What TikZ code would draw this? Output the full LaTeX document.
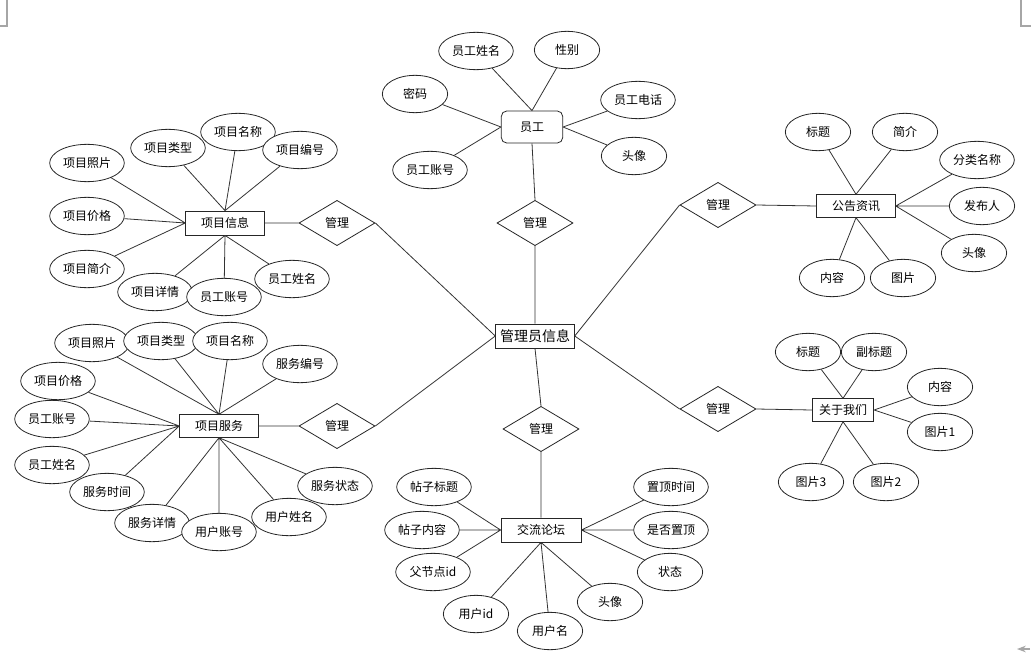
\documentclass[tikz,border=0pt]{standalone}
\usepackage{fontspec}
\setmainfont{Noto Sans CJK SC}
\usepackage{tikz}
\usetikzlibrary{shapes.geometric, arrows.meta}

\begin{document}
\begin{tikzpicture}[
    x=0.75pt, y=-0.75pt,
    font=\fontsize{9}{11}\selectfont,
    line width=0.6pt,
    >=Stealth,
    attr/.style={ellipse, draw=black!85, fill=white, inner sep=0pt, minimum width=56pt, minimum height=28pt},
    attrs/.style={attr, minimum width=49pt},
    entity/.style={rectangle, draw=black!85, fill=white, minimum width=59pt, minimum height=18pt, inner sep=2pt},
    relation/.style={diamond, draw=black!85, fill=white, inner sep=0pt, minimum width=57pt, minimum height=34pt},
    link/.style={draw=black!80}
]
    \useasboundingbox (0,0) rectangle (1031,660);
    % page corner marks
    \draw[gray!70, line width=0.8pt] (7,0) -- (7,26) -- (0,26);
    \draw[gray!70, line width=0.8pt] (1021,0) -- (1021,26) -- (1031,26);
    \draw[gray!70, line width=0.8pt, ->] (1030,649) -- (1017,649);

    % central entity
    \node[entity, font=\fontsize{10.5}{12}\selectfont] (admin) at (535,336) {管理员信息};

    % employee
    \node[entity, rounded corners=4pt, minimum width=46pt, minimum height=24pt] (emp) at (532,127) {员工};
    \node[relation] (rEmp) at (535,223) {管理};
    \node[attr] (e1) at (476,51) {员工姓名};
    \node[attrs] (e2) at (567,50) {性别};
    \node[attrs] (e3) at (415,94) {密码};
    \node[attr] (e4) at (638,100) {员工电话};
    \node[attrs] (e5) at (634,156) {头像};
    \node[attr] (e6) at (430,170) {员工账号};

    % project info
    \node[entity] (info) at (225,223) {项目信息};
    \node[relation] (rInfo) at (337,223) {管理};
    \node[attr] (i1) at (87,163) {项目照片};
    \node[attr] (i2) at (168,148) {项目类型};
    \node[attr] (i3) at (238,132) {项目名称};
    \node[attr] (i4) at (300,150) {项目编号};
    \node[attr] (i5) at (87,216) {项目价格};
    \node[attr] (i6) at (87,269) {项目简介};
    \node[attr] (i7) at (155,292) {项目详情};
    \node[attr] (i8) at (224,297) {员工账号};
    \node[attr] (i9) at (292,279) {员工姓名};

    % project service
    \node[entity, minimum height=17pt] (serv) at (219,426) {项目服务};
    \node[relation] (rServ) at (337,426) {管理};
    \node[attr] (s1) at (92,343) {项目照片};
    \node[attr] (s2) at (161,341) {项目类型};
    \node[attr] (s3) at (230,341) {项目名称};
    \node[attr] (s4) at (300,364) {服务编号};
    \node[attr] (s5) at (58,381) {项目价格};
    \node[attr] (s6) at (52,419) {员工账号};
    \node[attr] (s7) at (52,465) {员工姓名};
    \node[attr] (s8) at (107,492) {服务时间};
    \node[attr] (s9) at (152,523) {服务详情};
    \node[attr] (s10) at (219,532) {用户账号};
    \node[attr] (s11) at (289,517) {用户姓名};
    \node[attr] (s12) at (335,486) {服务状态};

    % notices
    \node[relation] (rNotice) at (718,205) {管理};
    \node[entity, minimum height=17pt] (notice) at (856,206) {公告资讯};
    \node[attrs] (n1) at (818,132) {标题};
    \node[attrs] (n2) at (905,132) {简介};
    \node[attr] (n3) at (977,160) {分类名称};
    \node[attrs] (n4) at (982,206) {发布人};
    \node[attrs] (n5) at (974,253) {头像};
    \node[attrs] (n6) at (832,278) {内容};
    \node[attrs] (n7) at (903,278) {图片};

    % about us
    \node[relation] (rAbout) at (718,409) {管理};
    \node[entity, minimum width=46pt, minimum height=17pt] (about) at (843,410) {关于我们};
    \node[attrs] (a1) at (808,352) {标题};
    \node[attrs] (a2) at (874,352) {副标题};
    \node[attrs] (a3) at (940,387) {内容};
    \node[attrs] (a4) at (940,432) {图片1};
    \node[attrs] (a5) at (811,482) {图片3};
    \node[attrs] (a6) at (886,482) {图片2};

    % forum
    \node[relation] (rForum) at (541,429) {管理};
    \node[entity, minimum width=60pt] (forum) at (541,530) {交流论坛};
    \node[attr] (f1) at (434,487) {帖子标题};
    \node[attr] (f2) at (422,530) {帖子内容};
    \node[attr] (f3) at (433,572) {父节点id};
    \node[attrs] (f4) at (476,614) {用户id};
    \node[attrs] (f5) at (550,631) {用户名};
    \node[attrs] (f6) at (610,602) {头像};
    \node[attr] (f7) at (671,487) {置顶时间};
    \node[attr] (f8) at (671,530) {是否置顶};
    \node[attrs] (f9) at (670,572) {状态};

    % relations to the central entity
    \draw[link] (admin.north) -- (rEmp.south) (rEmp.north) -- (emp.south);
    \draw[link] (admin.west) -- (rInfo.east) (rInfo.west) -- (info.east);
    \draw[link] (admin.west) -- (rServ.east) (rServ.west) -- (serv.east);
    \draw[link] (admin.east) -- (rNotice.west) (rNotice.east) -- (notice.west);
    \draw[link] (admin.east) -- (rAbout.west) (rAbout.east) -- (about.west);
    \draw[link] (admin.south) -- (rForum.north) (rForum.south) -- (forum.north);

    % attributes
    \draw[link] (emp.north) -- (e1) (emp.north) -- (e2) (emp.west) -- (e3)
        (emp.east) -- (e4) (emp.east) -- (e5) (emp.west) -- (e6);
    \draw[link] (info.west) -- (i1) (info.north) -- (i2) (info.north) -- (i3)
        (info.north) -- (i4) (info.west) -- (i5) (info.west) -- (i6)
        (info.south) -- (i7) (info.south) -- (i8) (info.south) -- (i9);
    \draw[link] (serv.north) -- (s1) (serv.north) -- (s2) (serv.north) -- (s3)
        (serv.north) -- (s4) (serv.west) -- (s5) (serv.west) -- (s6)
        (serv.west) -- (s7) (serv.west) -- (s8) (serv.south) -- (s9)
        (serv.south) -- (s10) (serv.south) -- (s11) (serv.south) -- (s12);
    \draw[link] (notice.north) -- (n1) (notice.north) -- (n2) (notice.east) -- (n3)
        (notice.east) -- (n4) (notice.east) -- (n5) (notice.south) -- (n6)
        (notice.south) -- (n7);
    \draw[link] (about.north) -- (a1) (about.north) -- (a2) (about.east) -- (a3)
        (about.east) -- (a4) (about.south) -- (a5) (about.south) -- (a6);
    \draw[link] (forum.west) -- (f1) (forum.west) -- (f2) (forum.west) -- (f3)
        (forum.south) -- (f4) (forum.south) -- (f5) (forum.south) -- (f6)
        (forum.east) -- (f7) (forum.east) -- (f8) (forum.east) -- (f9);
\end{tikzpicture}
\end{document}
